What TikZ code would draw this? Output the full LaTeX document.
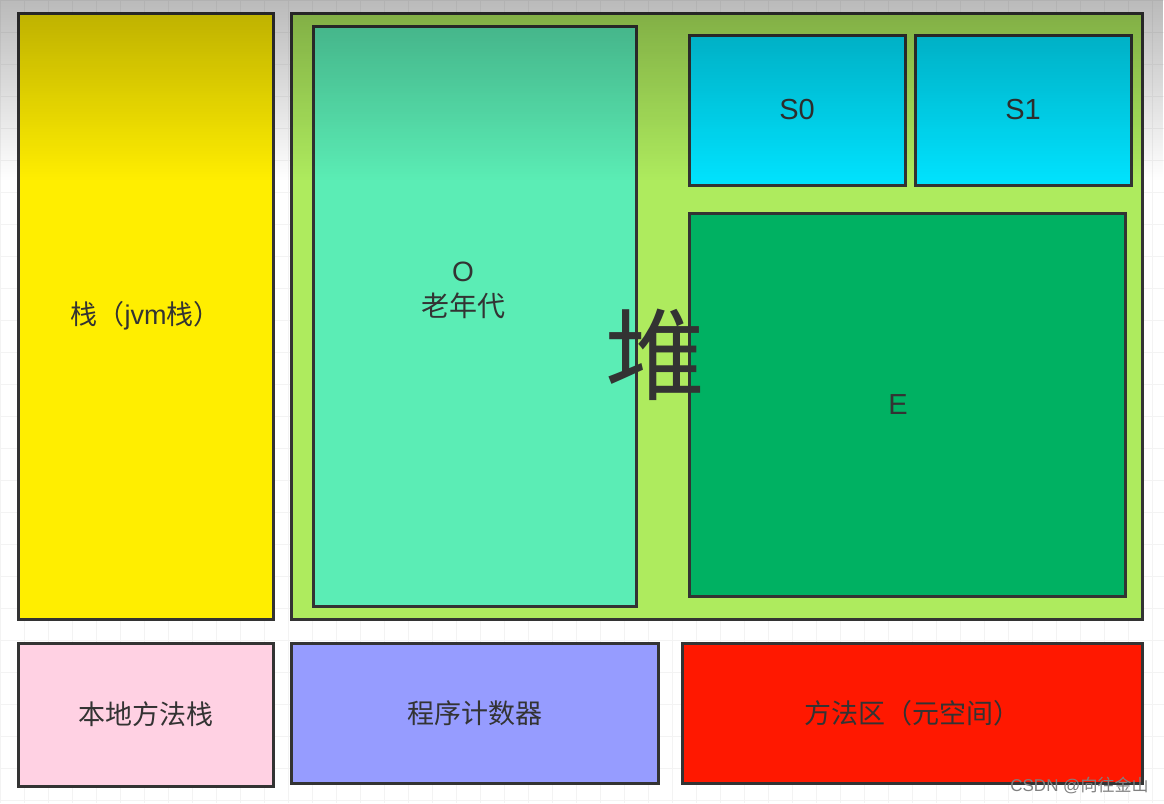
\documentclass[tikz,border=0pt]{standalone}
\usepackage{fontspec}
\setmainfont{Liberation Sans}
\newfontfamily\cjk{Noto Sans CJK SC}
\usetikzlibrary{fadings}

\definecolor{edge}{HTML}{333333}
\definecolor{ink}{HTML}{333333}
\definecolor{gridc}{HTML}{F3F3F3}
\definecolor{stackc}{HTML}{FFEE00}
\definecolor{heapc}{HTML}{AEEB5E}
\definecolor{oldc}{HTML}{5BEDB5}
\definecolor{survc}{HTML}{00E2FD}
\definecolor{edenc}{HTML}{00B162}
\definecolor{nativec}{HTML}{FFD1E3}
\definecolor{pcc}{HTML}{969CFF}
\definecolor{metac}{HTML}{FF1800}

\tikzfading[name=top fade, top color=transparent!0, bottom color=transparent!100]

\begin{document}
\begin{tikzpicture}[x=1pt,y=-1pt,line width=3pt,
        area/.style={rectangle,draw=edge,inner sep=0pt,text=ink,font=\fontsize{27}{34}\selectfont\cjk},
        latin/.style={font=\fontsize{29}{34}\selectfont\rmfamily}]
    \useasboundingbox (0,0) rectangle (1164,803);
    \fill[white] (0,0) rectangle (1164,803);
    \draw[gridc, line width=1pt, xstep=24pt, ystep=32pt] (0,803) grid (1164,0);

    % stack and heap
    \node[area, fill=stackc, minimum width=255pt, minimum height=606pt] at (145.5, 316) (stack) {栈（{\rmfamily jvm}栈）};
    \node[area, fill=heapc, minimum width=851pt, minimum height=606pt] at (716.5, 316) (heap) {};
    \node[area, fill=oldc, minimum width=323pt, minimum height=580pt] at (474.5, 316) (old) {};
    \node[area, fill=survc, latin, minimum width=216pt, minimum height=150pt] at (797, 110) (s0) {S0};
    \node[area, fill=survc, latin, minimum width=216pt, minimum height=150pt] at (1023, 110) (s1) {S1};
    \node[area, fill=edenc, latin, minimum width=436pt, minimum height=383pt] at (907, 404.5) (eden) {};
    \node[text=ink, latin] at (898, 405) (edentext) {E};
    \node[text=ink, align=center, font=\fontsize{28}{35}\selectfont\cjk] at (463, 290) (oldtext) {{\rmfamily O}\\老年代};
    \node[text=ink, inner sep=0pt, font=\fontsize{100}{100}\selectfont\cjk] at (655, 355) (heaptext) {堆};

    % bottom row
    \node[area, fill=nativec, minimum width=255pt, minimum height=143pt] at (145.5, 714.5) (native) {本地方法栈};
    \node[area, fill=pcc, minimum width=367pt, minimum height=140pt] at (474.5, 713) (pc) {程序计数器};
    \node[area, fill=metac, minimum width=460pt, minimum height=140pt] at (912, 713) (meta) {方法区（元空间）};

    \node[anchor=east, inner sep=0pt, text=black!50, font=\fontsize{17}{19}\selectfont\rmfamily] at (1150, 785) (mark) {CSDN @{\cjk 向往金山}};

    % screen shade at the top
    \fill[black, opacity=0.27, path fading=top fade] (0,0) rectangle (1164,180);
\end{tikzpicture}
\end{document}
